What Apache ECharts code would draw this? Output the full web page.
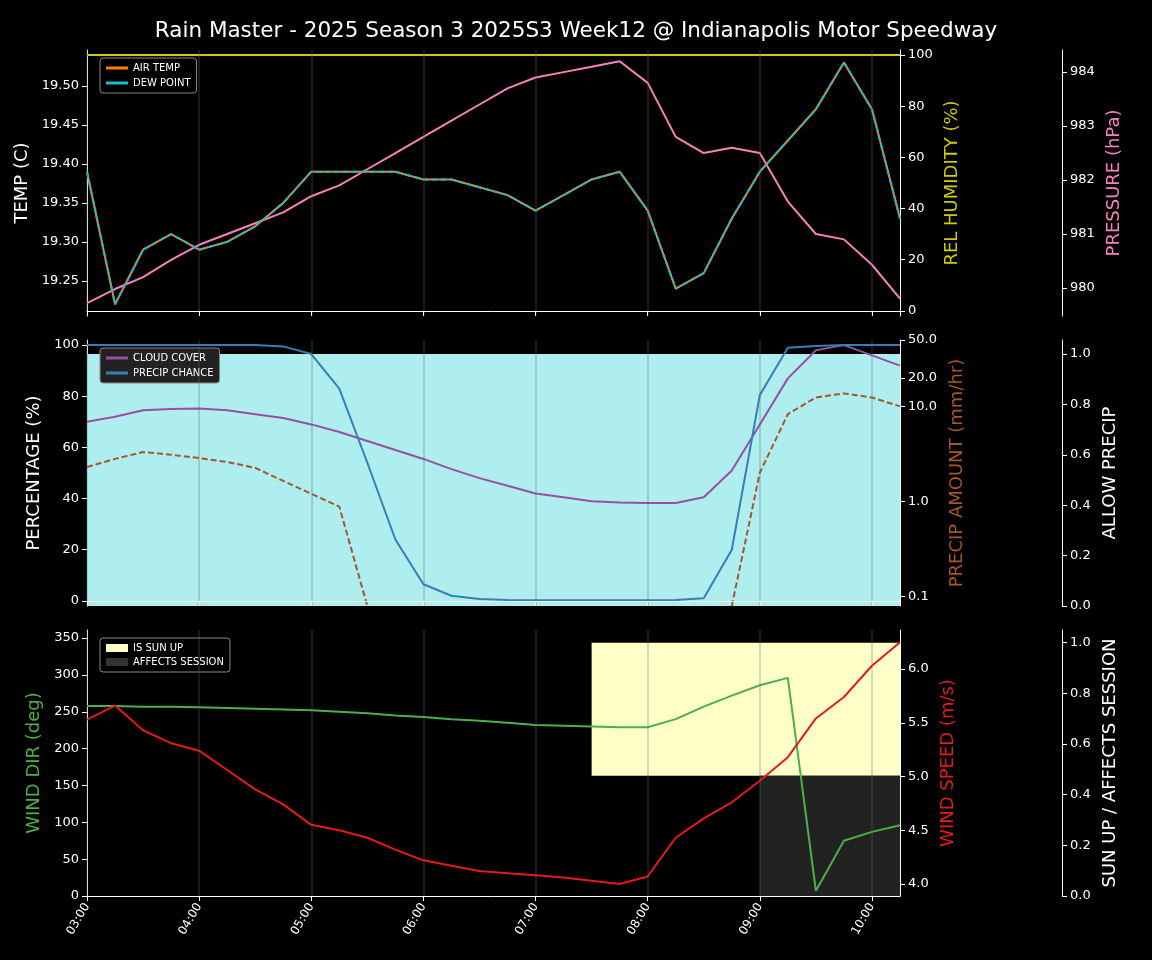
<!DOCTYPE html>
<html><head><meta charset="utf-8">
<script src="https://cdn.jsdelivr.net/npm/echarts@6/dist/echarts.min.js"></script>
<style>html,body{margin:0;background:#000}#c{width:1152px;height:960px}</style></head>
<body><div id="c"></div>
<script>
const times=[];for(let h=3;h<=10;h++)for(let m of [0,15,30,45]){if(h===10&&m>15)break;times.push(String(h).padStart(2,'0')+':'+String(m).padStart(2,'0'));}
const airTemp=[19.39,19.22,19.29,19.31,19.29,19.30,19.32,19.35,19.39,19.39,19.39,19.39,19.38,19.38,19.37,19.36,19.34,19.36,19.38,19.39,19.34,19.24,19.26,19.33,19.39,19.43,19.47,19.53,19.47,19.33];
const dewPoint=airTemp.slice();
const relHumidity=times.map(()=>100);
const pressure=[979.72,979.98,980.2,980.52,980.8,981.0,981.2,981.4,981.7,981.9,982.2,982.5,982.8,983.1,983.4,983.7,983.9,984.0,984.1,984.2,983.8,982.8,982.5,982.6,982.5,981.6,981.0,980.9,980.43,979.8];
const cloudCover=[70,72,74.5,75,75.2,74.5,73,71.5,69,66,62.5,59,55.5,51.5,48,45,42,40.5,39,38.5,38.3,38.3,40.5,51,69,87,98,100,96,92];
const precipChance=[100,100,100,100,100,100,100,99.5,96.5,83,54,24,6.5,2,0.7,0.3,0.2,0.2,0.2,0.2,0.2,0.3,1,20,80.5,99,99.7,100,100,100];
const precipAmount=[2.3,2.8,3.3,3.1,2.85,2.6,2.25,1.64,1.2,0.88,0.079,null,null,null,null,null,null,null,null,null,null,null,null,0.079,2.0,8.3,12.4,13.7,12.4,10];
const allowPrecip=times.map(()=>1);
const windDir=[258,258,257,257,256,255,254,253,252,250,248,245,243,240,238,235,232,231,230,229,229,240,257,272,286,296,7,75,87,96];
const windSpeed=[5.53,5.66,5.43,5.31,5.24,5.06,4.88,4.74,4.55,4.50,4.43,4.32,4.22,4.17,4.12,4.10,4.08,4.06,4.03,4.0,4.07,4.43,4.61,4.76,4.96,5.18,5.54,5.74,6.03,6.25];
const sunUp=times.map((t,i)=>i>=18?1:null);
const affectsSession=times.map((t,i)=>i>=24?1:null);
const tempTicks=[19.25,19.30,19.35,19.40,19.45,19.50];
const humTicks=[0,20,40,60,80,100];
const presTicks=[980,981,982,983,984];
const pctTicks=[0,20,40,60,80,100];
const amtTicks=[0.1,1.0,10.0,20.0,50.0];
const fracTicks=[0,0.2,0.4,0.6,0.8,1.0];
const dirTicks=[0,50,100,150,200,250,300,350];
const spdTicks=[4.0,4.5,5.0,5.5,6.0];

const F='DejaVu Sans';
const W='#fff';
const grids=[{left:87,right:252,top:50,height:266},{left:87,right:252,top:340,height:266},{left:87,right:252,top:630,height:266}];
function xa(i,show){return {type:'category',gridIndex:i,data:times,boundaryGap:false,z:5,
 axisLine:{lineStyle:{color:W}},axisTick:{show:true,interval:3,lineStyle:{color:W}},
 axisLabel:{show:show,interval:3,rotate:60,color:W,fontFamily:F,fontSize:12},
 splitLine:{show:true,interval:3,lineStyle:{color:'rgba(100,100,100,0.35)',width:1.5}}};}
function ya(o,ticks,fmt){return Object.assign({type:'value',splitLine:{show:false},nameLocation:'middle',
 nameTextStyle:{fontFamily:F,fontSize:18,color:o.nc||W},
 axisLine:{show:true,lineStyle:{color:W}},axisTick:{show:true,customValues:ticks,lineStyle:{color:W}},
 axisLabel:{color:W,fontFamily:F,fontSize:13,customValues:ticks,formatter:fmt}},o);}
const ll=(v)=>v==null?null:Math.log10(v);
const f1=v=>v.toFixed(1), f2=v=>v.toFixed(2), f0=v=>String(Math.round(v));
const option={backgroundColor:'#000',animation:false,
 title:{text:'Rain Master - 2025 Season 3 2025S3 Week12 @ Indianapolis Motor Speedway',left:'center',top:15,textStyle:{color:W,fontFamily:F,fontSize:21.5,fontWeight:'normal'}},
 grid:grids,
 xAxis:[xa(0,false),xa(1,false),xa(2,true)],
 yAxis:[
  ya({gridIndex:0,name:'TEMP (C)',nameGap:54,min:19.205,max:19.546},tempTicks,f2),
  ya({gridIndex:0,position:'right',name:'REL HUMIDITY (%)',nc:'#cccc00',nameGap:34,min:-2,max:102},humTicks,f0),
  ya({gridIndex:0,position:'right',offset:162,name:'PRESSURE (hPa)',nc:'#f781bf',nameGap:38,min:979.48,max:984.41},presTicks,f0),
  ya({gridIndex:1,name:'PERCENTAGE (%)',nameGap:42,min:-2,max:102},pctTicks,f0),
  ya({gridIndex:1,position:'right',name:'PRECIP AMOUNT (mm/hr)',nc:'#a65628',nameGap:38,min:Math.log10(0.079),max:Math.log10(50)},amtTicks.map(Math.log10),v=>Math.pow(10,v).toFixed(1)),
  ya({gridIndex:1,position:'right',offset:162,name:'ALLOW PRECIP',nameGap:38,min:0,max:1.056},fracTicks,f1),
  ya({gridIndex:2,name:'WIND DIR (deg)',nc:'#4daf4a',nameGap:42,min:0,max:361},dirTicks,f0),
  ya({gridIndex:2,position:'right',name:'WIND SPEED (m/s)',nc:'#e41a1c',nameGap:34,min:3.888,max:6.363},spdTicks,f1),
  ya({gridIndex:2,position:'right',offset:162,name:'SUN UP / AFFECTS SESSION',nameGap:38,min:0,max:1.05},fracTicks,f1)
 ],
 legend:[
  {data:[{name:'AIR TEMP',icon:'rect'},{name:'DEW POINT',icon:'rect'}],orient:'vertical',left:100,top:58,padding:[5,6],itemGap:5,itemWidth:22,itemHeight:3,backgroundColor:'#000',borderColor:'#888',borderWidth:1,borderRadius:3,textStyle:{color:W,fontFamily:F,fontSize:10}},
  {data:[{name:'CLOUD COVER',icon:'rect'},{name:'PRECIP CHANCE',icon:'rect'}],orient:'vertical',left:100,top:348,padding:[5,6],itemGap:5,itemWidth:22,itemHeight:3,backgroundColor:'#222',borderColor:'#888',borderWidth:1,borderRadius:3,textStyle:{color:W,fontFamily:F,fontSize:10}},
  {data:[{name:'IS SUN UP',icon:'rect'},{name:'AFFECTS SESSION',icon:'rect'}],orient:'vertical',left:100,top:638,padding:[5,6],itemGap:4,itemWidth:22,itemHeight:8,backgroundColor:'#000',borderColor:'#888',borderWidth:1,borderRadius:3,textStyle:{color:W,fontFamily:F,fontSize:10}}
 ],
 series:[
  {name:'ALLOW',type:'line',xAxisIndex:1,yAxisIndex:5,data:allowPrecip,symbol:'none',lineStyle:{width:0},areaStyle:{color:'#afeeee',opacity:1},z:1},
  {name:'REL HUMIDITY',type:'line',xAxisIndex:0,yAxisIndex:1,data:relHumidity,symbol:'none',lineStyle:{color:'#cccc00',width:2}},
  {name:'PRESSURE',type:'line',xAxisIndex:0,yAxisIndex:2,data:pressure,symbol:'none',lineStyle:{color:'#f781bf',width:2},itemStyle:{color:'#f781bf'}},
  {name:'AIR TEMP',type:'line',xAxisIndex:0,yAxisIndex:0,data:airTemp,symbol:'none',lineStyle:{color:'#ff7f0e',width:2},itemStyle:{color:'#ff7f0e'}},
  {name:'DEW POINT',type:'line',xAxisIndex:0,yAxisIndex:0,data:dewPoint,symbol:'none',lineStyle:{color:'#17becf',width:2,type:[6,3]},itemStyle:{color:'#17becf'}},
  {name:'PRECIP AMOUNT',type:'line',xAxisIndex:1,yAxisIndex:4,data:precipAmount.map(ll),symbol:'none',lineStyle:{color:'#a65628',width:2,type:[6,3]}},
  {name:'CLOUD COVER',type:'line',xAxisIndex:1,yAxisIndex:3,data:cloudCover,symbol:'none',lineStyle:{color:'#984ea3',width:2},itemStyle:{color:'#984ea3'}},
  {name:'PRECIP CHANCE',type:'line',xAxisIndex:1,yAxisIndex:3,data:precipChance,symbol:'none',lineStyle:{color:'#377eb8',width:2},itemStyle:{color:'#377eb8'}},
  {name:'SUNBASE',type:'line',stack:'sun',xAxisIndex:2,yAxisIndex:8,data:sunUp.map(v=>v==null?null:v*0.475),symbol:'none',lineStyle:{width:0},z:1},
  {name:'IS SUN UP',type:'line',stack:'sun',xAxisIndex:2,yAxisIndex:8,data:sunUp.map(v=>v==null?null:v*0.525),symbol:'none',lineStyle:{width:0},areaStyle:{color:'#ffffc8',opacity:1},itemStyle:{color:'#ffffc8'},z:1},
  {name:'AFFECTS SESSION',type:'line',xAxisIndex:2,yAxisIndex:8,data:affectsSession.map(v=>v==null?null:v*0.475),symbol:'none',lineStyle:{width:0},areaStyle:{color:'#222',opacity:1},itemStyle:{color:'#333'},z:1},
  {name:'WIND DIR',type:'line',xAxisIndex:2,yAxisIndex:6,data:windDir,symbol:'none',lineStyle:{color:'#4daf4a',width:2}},
  {name:'WIND SPEED',type:'line',xAxisIndex:2,yAxisIndex:7,data:windSpeed,symbol:'none',lineStyle:{color:'#e41a1c',width:2}}
 ]};
const ch=echarts.init(document.getElementById('c'));
ch.setOption(option);
</script></body></html>
